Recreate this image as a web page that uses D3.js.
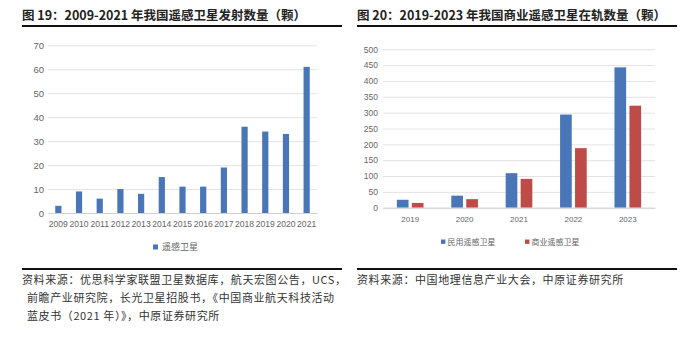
<!DOCTYPE html>
<html>
<head>
<meta charset="utf-8">
<script src="https://cdn.jsdelivr.net/npm/d3@7"></script>
<style>
  html, body { margin: 0; padding: 0; background: #fff; }
  svg { display: block; }
</style>
</head>
<body>
<svg id="fig" width="700" height="337"></svg>
<script>
// Figure 19: remote sensing satellite launches per year
const launchYears = ["2009","2010","2011","2012","2013","2014","2015","2016","2017","2018","2019","2020","2021"];
const launchCounts = [3, 9, 6, 10, 8, 15, 11, 11, 19, 36, 34, 33, 61];
const launchTicks = [0, 10, 20, 30, 40, 50, 60, 70];
const launchSeriesName = "遥感卫星";

// Figure 20: commercial remote sensing satellites in orbit
const orbitYears = ["2019","2020","2021","2022","2023"];
const orbitSeries = ["民用遥感卫星", "商业遥感卫星"];
const civilCounts = [25, 38, 109, 294, 443];
const commercialCounts = [15, 27, 91, 188, 322];
const orbitTicks = [0, 50, 100, 150, 200, 250, 300, 350, 400, 450, 500];

const titleLeft = "图 19：2009-2021 年我国遥感卫星发射数量（颗）";
const titleRight = "图 20：2019-2023 年我国商业遥感卫星在轨数量（颗）";
const sourceLeft = [
  "资料来源：优思科学家联盟卫星数据库，航天宏图公告，UCS，",
  "前瞻产业研究院，长光卫星招股书，《中国商业航天科技活动",
  "蓝皮书（2021 年）》，中原证券研究所"
];
const sourceRight = ["资料来源：中国地理信息产业大会，中原证券研究所"];

const BLUE = "#4a76b8";
const RED = "#be4b48";
const GRID = "#e3e3e3";
const TICK = "#666";
const CJK = "'Noto Sans CJK SC', 'Noto Sans', sans-serif";
const LATIN = "'Liberation Sans', Arial, sans-serif";

const svg = d3.select("#fig");

// ---- headers and footers ----
function header(x0, x1, text) {
  svg.append("text")
    .attr("x", x0).attr("y", 20)
    .attr("font-family", CJK)
    .attr("font-weight", 700)
    .attr("font-size", 12.5)
    .attr("fill", "#222")
    .text(text);
  svg.append("line")
    .attr("x1", x0).attr("x2", x1)
    .attr("y1", 26).attr("y2", 26)
    .attr("stroke", "#111").attr("stroke-width", 2);
}
function footer(x0, x1, lines) {
  svg.append("line")
    .attr("x1", x0).attr("x2", x1)
    .attr("y1", 269).attr("y2", 269)
    .attr("stroke", "#111").attr("stroke-width", 2);
  lines.forEach((t, i) => {
    svg.append("text")
      .attr("x", i === 0 ? x0 : x0 + 5)
      .attr("y", 284 + i * 17.8)
      .attr("font-family", CJK)
      .attr("font-size", 11)
      .attr("letter-spacing", 0.6)
      .attr("fill", "#333")
      .text(t);
  });
}
header(22, 342, titleLeft);
header(357, 677, titleRight);
footer(22, 342, sourceLeft);
footer(357, 677, sourceRight);

// ---- left chart ----
{
  const x = d3.scaleBand().domain(launchYears).range([48, 317])
    .paddingInner(0.7).paddingOuter(0.35);
  const y = d3.scaleLinear().domain([0, 70]).range([213, 45.3]);
  const g = svg.append("g");

  const yAxis = d3.axisLeft(y).tickValues(launchTicks).tickSize(-(317 - 48)).tickPadding(4);
  const ya = g.append("g").attr("transform", "translate(48,0)").call(yAxis);
  ya.select(".domain").remove();
  ya.selectAll(".tick line").attr("stroke", GRID).attr("stroke-width", 1);
  ya.selectAll(".tick text").attr("fill", TICK).attr("font-family", LATIN).attr("font-size", 9.5);

  g.selectAll("rect.bar").data(launchCounts).join("rect")
    .attr("class", "bar")
    .attr("x", (d, i) => x(launchYears[i]))
    .attr("width", x.bandwidth())
    .attr("y", d => y(d))
    .attr("height", d => y(0) - y(d))
    .attr("fill", BLUE);

  const xAxis = d3.axisBottom(x).tickSize(0).tickPadding(8);
  const xa = g.append("g").attr("transform", "translate(0,213)").call(xAxis);
  xa.select(".domain").attr("stroke", "#d0d0d0");
  xa.selectAll(".tick text").attr("fill", TICK).attr("font-family", LATIN).attr("font-size", 8.6);

  const lg = g.append("g").attr("transform", "translate(153,247)");
  lg.append("rect").attr("x", 0).attr("y", -2.5).attr("width", 5).attr("height", 5).attr("fill", BLUE);
  lg.append("text").attr("x", 9).attr("y", 0).attr("dy", "0.35em")
    .attr("font-family", CJK).attr("font-size", 9).attr("fill", TICK).text(launchSeriesName);
}

// ---- right chart ----
{
  const x0 = d3.scaleBand().domain(orbitYears).range([383, 655])
    .paddingInner(0.51).paddingOuter(0.255);
  const x1 = d3.scaleBand().domain(orbitSeries).range([0, x0.bandwidth()]).paddingInner(0.22);
  const y = d3.scaleLinear().domain([0, 500]).range([207.7, 49.3]);
  const color = d3.scaleOrdinal().domain(orbitSeries).range([BLUE, RED]);
  const g = svg.append("g");

  const yAxis = d3.axisLeft(y).tickValues(orbitTicks).tickSize(-(655 - 383)).tickPadding(5);
  const ya = g.append("g").attr("transform", "translate(383,0)").call(yAxis);
  ya.select(".domain").remove();
  ya.selectAll(".tick line").attr("stroke", GRID).attr("stroke-width", 1);
  ya.selectAll(".tick text").attr("fill", TICK).attr("font-family", LATIN).attr("font-size", 8.5);

  const rows = orbitYears.map((yr, i) => ({ yr, vals: [civilCounts[i], commercialCounts[i]] }));
  g.selectAll("g.grp").data(rows).join("g")
    .attr("class", "grp")
    .attr("transform", d => `translate(${x0(d.yr)},0)`)
    .selectAll("rect").data(d => d.vals.map((v, k) => ({ s: orbitSeries[k], v })))
    .join("rect")
    .attr("x", d => x1(d.s))
    .attr("width", x1.bandwidth())
    .attr("y", d => y(d.v))
    .attr("height", d => y(0) - y(d.v))
    .attr("fill", d => color(d.s));

  const xAxis = d3.axisBottom(x0).tickSize(0).tickPadding(9);
  const xa = g.append("g").attr("transform", "translate(0,207.7)").call(xAxis);
  xa.select(".domain").attr("stroke", "#d0d0d0");
  xa.selectAll(".tick text").attr("fill", TICK).attr("font-family", LATIN).attr("font-size", 8);

  const legendX = [441, 525];
  orbitSeries.forEach((s, k) => {
    const lg = g.append("g").attr("transform", `translate(${legendX[k]},241.7)`);
    lg.append("rect").attr("x", 0).attr("y", -2.2).attr("width", 4.4).attr("height", 4.4).attr("fill", color(s));
    lg.append("text").attr("x", 6.5).attr("y", 0).attr("dy", "0.35em")
      .attr("font-family", CJK).attr("font-size", 8).attr("fill", TICK).text(s);
  });
}
</script>
</body>
</html>
